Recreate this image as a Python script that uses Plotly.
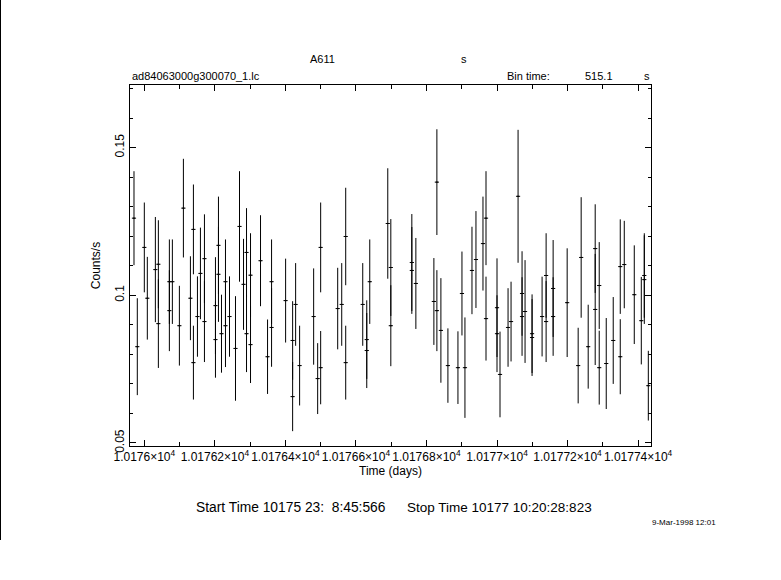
import plotly.graph_objects as go

# ---- data ----
time_days = [
    10175.9707, 10175.9801, 10176.0000, 10176.0085, 10176.0313, 10176.0398, 10176.0398,
    10176.0710, 10176.0710, 10176.0795, 10176.0994, 10176.1108, 10176.1307, 10176.1392,
    10176.1392, 10176.1506, 10176.1591, 10176.1705, 10176.1705, 10176.2017, 10176.2017,
    10176.2102, 10176.2102, 10176.2188, 10176.2301, 10176.2301, 10176.2415, 10176.2585,
    10176.2699, 10176.2813, 10176.2898, 10176.2898, 10176.3011, 10176.3011, 10176.3295,
    10176.3494, 10176.3608, 10176.3608, 10176.4006, 10176.4205, 10176.4205, 10176.4290,
    10176.4403, 10176.4801, 10176.4915, 10176.5000, 10176.5000, 10176.5483, 10176.5597,
    10176.5710, 10176.5710, 10176.6193, 10176.6307, 10176.6307, 10176.6392, 10176.6903,
    10176.6989, 10176.6989, 10176.7585, 10176.7585, 10176.7699, 10176.8210, 10176.8295,
    10176.8295, 10176.8409, 10176.8608, 10176.8892, 10176.9006, 10176.9091, 10176.9290,
    10176.9403, 10176.9602, 10176.9688, 10176.9688, 10177.0000, 10177.0000, 10177.0085,
    10177.0313, 10177.0398, 10177.0597, 10177.0710, 10177.0710, 10177.0795, 10177.0994,
    10177.0994, 10177.1278, 10177.1392, 10177.1392, 10177.1591, 10177.1591, 10177.1989,
    10177.2301, 10177.2386, 10177.2585, 10177.2784, 10177.2784, 10177.2898, 10177.2898,
    10177.3097, 10177.3295, 10177.3494, 10177.3494, 10177.3608, 10177.3892, 10177.4091,
    10177.4176, 10177.4176, 10177.4290,
]
rate = [
    0.1261, 0.0826, 0.1162, 0.0990, 0.1087, 0.1105, 0.0904,
    0.1046, 0.0948, 0.1046, 0.0897, 0.1295, 0.0990, 0.1223,
    0.0772, 0.0928, 0.1074, 0.1124, 0.0911, 0.0965, 0.0850,
    0.1169, 0.1071, 0.0870, 0.1046, 0.0897, 0.0928, 0.0820,
    0.1233, 0.1037, 0.1145, 0.0870, 0.1068, 0.0833, 0.1117,
    0.0792, 0.1046, 0.0891, 0.0982, 0.0847, 0.0657, 0.0969,
    0.0762, 0.0928, 0.0718, 0.1162, 0.0755, 0.0955, 0.0969,
    0.1199, 0.0772, 0.0969, 0.0850, 0.0813, 0.1046, 0.1243,
    0.1094, 0.0897, 0.1111, 0.1084, 0.1040, 0.0979, 0.1383,
    0.0948, 0.0881, 0.0762, 0.0755, 0.1006, 0.0755, 0.1084,
    0.1121, 0.1175, 0.1261, 0.0921, 0.0958, 0.0870, 0.0732,
    0.0891, 0.0911, 0.1335, 0.1006, 0.0928, 0.0945, 0.0870,
    0.0857, 0.0928, 0.1067, 0.0911, 0.1023, 0.0928, 0.0975,
    0.0762, 0.1128, 0.0826, 0.1158, 0.0952, 0.1033, 0.0755,
    0.0769, 0.0847, 0.1097, 0.0792, 0.1104, 0.1002, 0.0914,
    0.1067, 0.1053, 0.0694,
]
rate_err = [
    0.0159, 0.0164, 0.0152, 0.0140, 0.0178, 0.0149, 0.0150,
    0.0143, 0.0137, 0.0143, 0.0135, 0.0167, 0.0142, 0.0152,
    0.0125, 0.0136, 0.0155, 0.0150, 0.0137, 0.0164, 0.0129,
    0.0165, 0.0161, 0.0132, 0.0143, 0.0140, 0.0136, 0.0177,
    0.0187, 0.0154, 0.0150, 0.0130, 0.0142, 0.0130, 0.0154,
    0.0126, 0.0143, 0.0133, 0.0142, 0.0133, 0.0117, 0.0140,
    0.0135, 0.0163, 0.0120, 0.0152, 0.0124, 0.0138, 0.0140,
    0.0165, 0.0125, 0.0140, 0.0133, 0.0127, 0.0143, 0.0187,
    0.0164, 0.0137, 0.0164, 0.0147, 0.0154, 0.0147, 0.0179,
    0.0137, 0.0177, 0.0126, 0.0123, 0.0142, 0.0170, 0.0148,
    0.0164, 0.0159, 0.0159, 0.0142, 0.0167, 0.0130, 0.0145,
    0.0133, 0.0135, 0.0225, 0.0143, 0.0133, 0.0174, 0.0133,
    0.0130, 0.0135, 0.0143, 0.0137, 0.0164, 0.0133, 0.0184,
    0.0128, 0.0204, 0.0142, 0.0150, 0.0188, 0.0147, 0.0125,
    0.0154, 0.0147, 0.0160, 0.0127, 0.0148, 0.0167, 0.0148,
    0.0143, 0.0150, 0.0118,
]
bin_time_s = 515.1
x_tick_vals = [10176.0, 10176.2, 10176.4, 10176.6, 10176.8, 10177.0, 10177.2, 10177.4]
x_tick_text = ["1.0176", "1.01762", "1.01764", "1.01766", "1.01768", "1.0177", "1.01772", "1.01774"]
y_tick_vals = [0.05, 0.1, 0.15]
y_tick_text = ["0.05", "0.1", "0.15"]

# ---- layout geometry (pixels) ----
W, H = 781, 580
L, R, T, B = 130, 651, 85, 446
FONT = "Liberation Sans, Arial, sans-serif"


def px(x):
    return (x - L) / (R - L)


def py(y):
    return (B - y) / (B - T)


half_bin_days = bin_time_s / 86400.0 / 2.0

fig = go.Figure()
fig.add_trace(go.Scatter(
    x=time_days, y=rate, mode="markers",
    marker=dict(symbol="line-ew", size=3, color="black", line=dict(color="black", width=1)),
    error_y=dict(type="data", array=rate_err, visible=True, color="black", thickness=1, width=0),
    error_x=dict(type="constant", value=half_bin_days, visible=True, color="black", thickness=1, width=0),
    showlegend=False, hoverinfo="skip",
))

axis_common = dict(
    showline=True, linecolor="black", linewidth=1, mirror="allticks",
    ticks="inside", tickcolor="black", tickwidth=1, showgrid=False, zeroline=False,
    automargin=False,
)

fig.update_xaxes(
    **axis_common,
    range=[10175.9594, 10177.4366],
    tickvals=x_tick_vals,
    ticktext=[t + "×10<sup>4</sup>" for t in x_tick_text],
    tickfont=dict(family=FONT, size=12, color="black"),
    tickangle=0,
    ticklen=6,
    minor=dict(ticks="inside", dtick=0.1, tick0=10176.0, ticklen=4, tickcolor="black", showgrid=False),
    title=dict(text="Time (days)", font=dict(family=FONT, size=12, color="black"), standoff=3),
)
fig.update_yaxes(
    **axis_common,
    range=[0.04898, 0.17118],
    tickvals=y_tick_vals,
    ticktext=y_tick_text,
    tickangle=-90,
    tickfont=dict(family=FONT, size=12, color="black"),
    ticklen=6,
    minor=dict(ticks="inside", dtick=0.01, tick0=0.05, ticklen=3, tickcolor="black", showgrid=False),
    title=dict(text="Counts/s", font=dict(family=FONT, size=12, color="black"), standoff=10),
)

ann_font = dict(family=FONT, size=11, color="black")
annotations = [
    dict(text="A611", x=px(322), y=py(59), xanchor="center", yanchor="middle", font=ann_font),
    dict(text="s", x=px(464), y=py(59), xanchor="center", yanchor="middle", font=ann_font),
    dict(text="ad84063000g300070_1.lc", x=px(130), y=py(76), xanchor="left", yanchor="middle", font=ann_font),
    dict(text="Bin time:", x=px(505), y=py(76), xanchor="left", yanchor="middle", font=ann_font),
    dict(text=f"{bin_time_s}", x=px(583), y=py(76), xanchor="left", yanchor="middle", font=ann_font),
    dict(text="s", x=px(647), y=py(76), xanchor="center", yanchor="middle", font=ann_font),
    dict(text="Start Time 10175 23:\u00a0 8:45:566", x=px(194), y=py(507),
         xanchor="left", yanchor="middle", font=dict(family=FONT, size=13.8, color="black")),
    dict(text="Stop Time 10177 10:20:28:823", x=px(405), y=py(507),
         xanchor="left", yanchor="middle", font=dict(family=FONT, size=13.5, color="black")),
    dict(text="9-Mar-1998 12:01", x=px(684), y=py(522), xanchor="center", yanchor="middle",
         font=dict(family=FONT, size=8, color="black")),
]
for a in annotations:
    a.update(xref="paper", yref="paper", showarrow=False)

fig.update_layout(
    width=W, height=H,
    margin=dict(l=L, r=W - R, t=T, b=H - B),
    plot_bgcolor="white", paper_bgcolor="white",
    annotations=annotations,
    shapes=[dict(type="line", xref="paper", yref="paper",
                 x0=px(0.5), x1=px(0.5), y0=py(0), y1=py(540),
                 line=dict(color="black", width=1))],
)

fig.write_html(
    "out.html",
    config={"displayModeBar": False},
    post_script="document.body.style.margin='0';document.body.style.padding='0';",
)
